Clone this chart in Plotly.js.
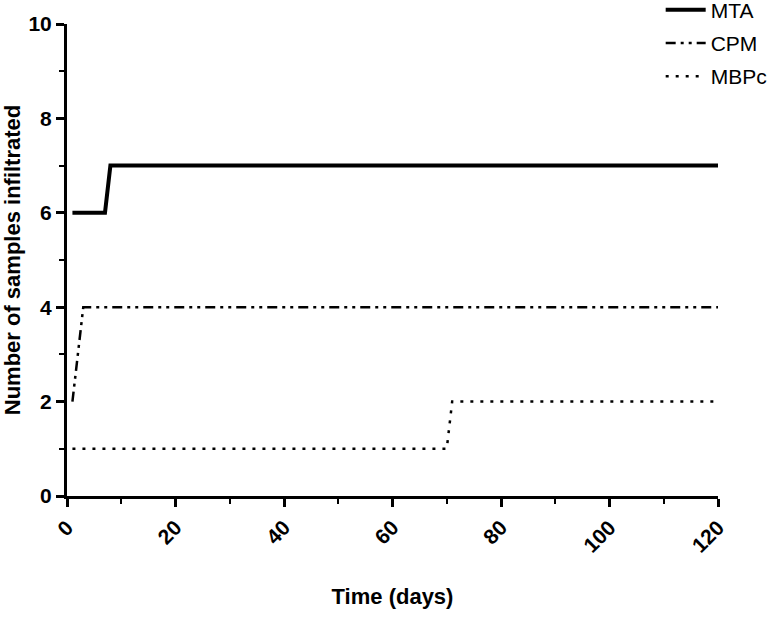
<!DOCTYPE html>
<html>
<head>
<meta charset="utf-8">
<script src="https://cdn.plot.ly/plotly-3.0.1.min.js"></script>
<style>html,body{margin:0;padding:0;background:#fff;}#chart{width:771px;height:617px;}</style>
</head>
<body>
<div id="chart"></div>
<script>
const mtaDays = [1, 7, 8, 120];
const mtaValues = [6, 6, 7, 7];
const cpmDays = [1, 3, 120];
const cpmValues = [2, 4, 4];
const mbpcDays = [1, 70, 71, 120];
const mbpcValues = [1, 1, 2, 2];
const xTicks = [0, 20, 40, 60, 80, 100, 120];
const yTicks = [0, 2, 4, 6, 8, 10];

const traces = [
  {x: mtaDays, y: mtaValues, name: 'MTA', mode: 'lines', legendgroup: 'a',
   line: {color: '#000', width: 4, dash: 'solid'}},
  {x: cpmDays, y: cpmValues, name: 'CPM', mode: 'lines', legendgroup: 'b',
   line: {color: '#000', width: 2.5, dash: '10px,5px,3px,5px,3px,5px'}},
  {x: mbpcDays, y: mbpcValues, name: 'MBPc', mode: 'lines', legendgroup: 'c',
   line: {color: '#000', width: 2.5, dash: '3px,7px'}}
];

const fam = 'Liberation Sans, Arial, sans-serif';
const tickFont = {family: fam, size: 21, color: '#000', weight: 'bold'};
const layout = {
  width: 771, height: 617,
  margin: {l: 67, r: 53, t: 24, b: 121, autoexpand: false},
  paper_bgcolor: '#fff', plot_bgcolor: '#fff',
  showlegend: true,
  legend: {x: 1.084, xanchor: 'right', y: 1.073, yanchor: 'top',
           font: {family: fam, size: 21, color: '#000'},
           tracegroupgap: 3, bgcolor: 'rgba(0,0,0,0)', itemwidth: 40},
  xaxis: {
    range: [0, 120], tickvals: xTicks, ticktext: xTicks.map(String),
    showgrid: false, zeroline: false, showline: true, linecolor: '#000', linewidth: 3,
    ticks: 'outside', ticklen: 8, tickwidth: 3, tickcolor: '#000',
    tickangle: -45, tickfont: tickFont, automargin: false,
    minor: {dtick: 10, tick0: 0, ticks: 'outside', ticklen: 5, tickwidth: 2, tickcolor: '#000', showgrid: false},
    title: {text: 'Time (days)', font: {family: fam, size: 22, color: '#000', weight: 'bold'}, standoff: 33}
  },
  yaxis: {
    range: [0, 10], tickvals: yTicks, ticktext: yTicks.map(String),
    showgrid: false, zeroline: false, showline: true, linecolor: '#000', linewidth: 3,
    ticks: 'outside', ticklen: 8, tickwidth: 3, tickcolor: '#000',
    tickfont: tickFont, automargin: false,
    minor: {dtick: 1, tick0: 0, ticks: 'outside', ticklen: 5, tickwidth: 2, tickcolor: '#000', showgrid: false},
    title: {text: 'Number of samples infiltrated', font: {family: fam, size: 22, color: '#000', weight: 'bold'}, standoff: 5}
  }
};
Plotly.newPlot('chart', traces, layout, {displayModeBar: false, staticPlot: true});
</script>
</body>
</html>
